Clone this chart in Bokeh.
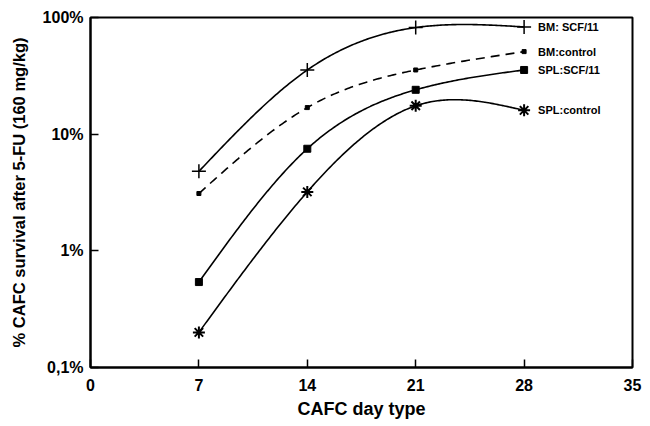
import numpy as np
from bokeh.plotting import figure
from bokeh.models import FixedTicker, Range1d
from bokeh.core.properties import value
from bokeh.embed import file_html
from bokeh.resources import INLINE

# CAFC day types (x) and survival (% of control) for each group
days = [7, 14, 21, 28]
bm_scf = [4.8, 35.5, 82.0, 83.0]
bm_control = [3.1, 16.9, 35.5, 51.0]
spl_scf = [0.54, 7.5, 24.0, 35.5]
spl_control = [0.2, 3.2, 17.5, 16.0]

series_names = ["BM: SCF/11", "BM:control", "SPL:SCF/11", "SPL:control"]

x_ticks = [0, 7, 14, 21, 28, 35]
y_ticks = [0.1, 1, 10, 100]
y_tick_labels = ["0,1%", "1%", "10%", "100%"]

FONT = "Liberation Sans"


def smooth_log_curve(x, y, n=200):
    """Natural cubic spline through the points, computed in log10(y)."""
    x = np.asarray(x, dtype=float)
    ly = np.log10(np.asarray(y, dtype=float))
    k = len(x)
    h = np.diff(x)
    A = np.zeros((k, k))
    b = np.zeros(k)
    A[0, 0] = 1.0
    A[-1, -1] = 1.0
    for i in range(1, k - 1):
        A[i, i - 1] = h[i - 1]
        A[i, i] = 2 * (h[i - 1] + h[i])
        A[i, i + 1] = h[i]
        b[i] = 6 * ((ly[i + 1] - ly[i]) / h[i] - (ly[i] - ly[i - 1]) / h[i - 1])
    M = np.linalg.solve(A, b)
    xs = np.linspace(x[0], x[-1], n)
    out = np.empty_like(xs)
    for j, xv in enumerate(xs):
        i = min(np.searchsorted(x, xv, side="right") - 1, k - 2)
        t0 = x[i + 1] - xv
        t1 = xv - x[i]
        out[j] = (M[i] * t0 ** 3 / (6 * h[i]) + M[i + 1] * t1 ** 3 / (6 * h[i])
                  + (ly[i] / h[i] - M[i] * h[i] / 6) * t0
                  + (ly[i + 1] / h[i] - M[i + 1] * h[i] / 6) * t1)
    return xs, 10 ** out


p = figure(
    width=650, height=426,
    y_axis_type="log",
    x_range=Range1d(0, 35), y_range=Range1d(0.1, 100),
    output_backend="svg", toolbar_location=None,
    min_border_left=90, min_border_right=18,
    min_border_top=17, min_border_bottom=59,
)
p.grid.visible = False
p.outline_line_color = "black"
p.outline_line_width = 2

# curves
for ys, dash in [(bm_scf, "solid"), (bm_control, "9 6"),
                 (spl_scf, "solid"), (spl_control, "solid")]:
    cx, cy = smooth_log_curve(days, ys)
    p.line(cx, cy, line_color="black", line_width=1.6, line_dash=dash)

# markers
p.scatter(days, bm_scf, marker="cross", size=14, line_color="black", line_width=1.5)
p.scatter(days, bm_control, marker="square", size=4, line_color="black", fill_color="black")
p.scatter(days, spl_scf, marker="square", size=7, line_color="black", fill_color="black")
p.scatter(days, spl_control, marker="asterisk", size=12, line_color="black", line_width=2)

# series labels at the right end of each curve
last_vals = [bm_scf[-1], bm_control[-1], spl_scf[-1], spl_control[-1]]
p.text(x=[days[-1]] * 4, y=last_vals, text=series_names,
       x_offset=14, text_baseline="middle", text_align="left",
       text_font=value(FONT), text_font_style="bold",
       text_font_size="11px", text_color="black")

# axes
for ax in (p.xaxis[0], p.yaxis[0]):
    ax.axis_line_width = 2
    ax.major_tick_in = 8
    ax.major_tick_out = 0
    ax.minor_tick_in = 0
    ax.minor_tick_out = 0
    ax.major_tick_line_width = 1.5
    ax.major_label_text_font = FONT
    ax.major_label_text_font_style = "bold"
    ax.major_label_text_font_size = "16px"
    ax.major_label_text_color = "black"
    ax.axis_label_text_font = FONT
    ax.axis_label_text_font_style = "bold"
    ax.axis_label_text_color = "black"

p.xaxis.ticker = FixedTicker(ticks=x_ticks)
p.xaxis.major_label_standoff = 11
p.xaxis.axis_label = "CAFC day type"
p.xaxis.axis_label_text_font_size = "18px"
p.xaxis.axis_label_standoff = 5

p.yaxis.ticker = FixedTicker(ticks=y_ticks)
p.yaxis.major_label_overrides = dict(zip(y_ticks, y_tick_labels))
p.yaxis.major_label_standoff = 7
p.yaxis.axis_label = "% CAFC survival after 5-FU (160 mg/kg)"
p.yaxis.axis_label_text_font_size = "16.5px"
p.yaxis.axis_label_standoff = 12

open("out.html", "w").write(file_html(p, INLINE))
